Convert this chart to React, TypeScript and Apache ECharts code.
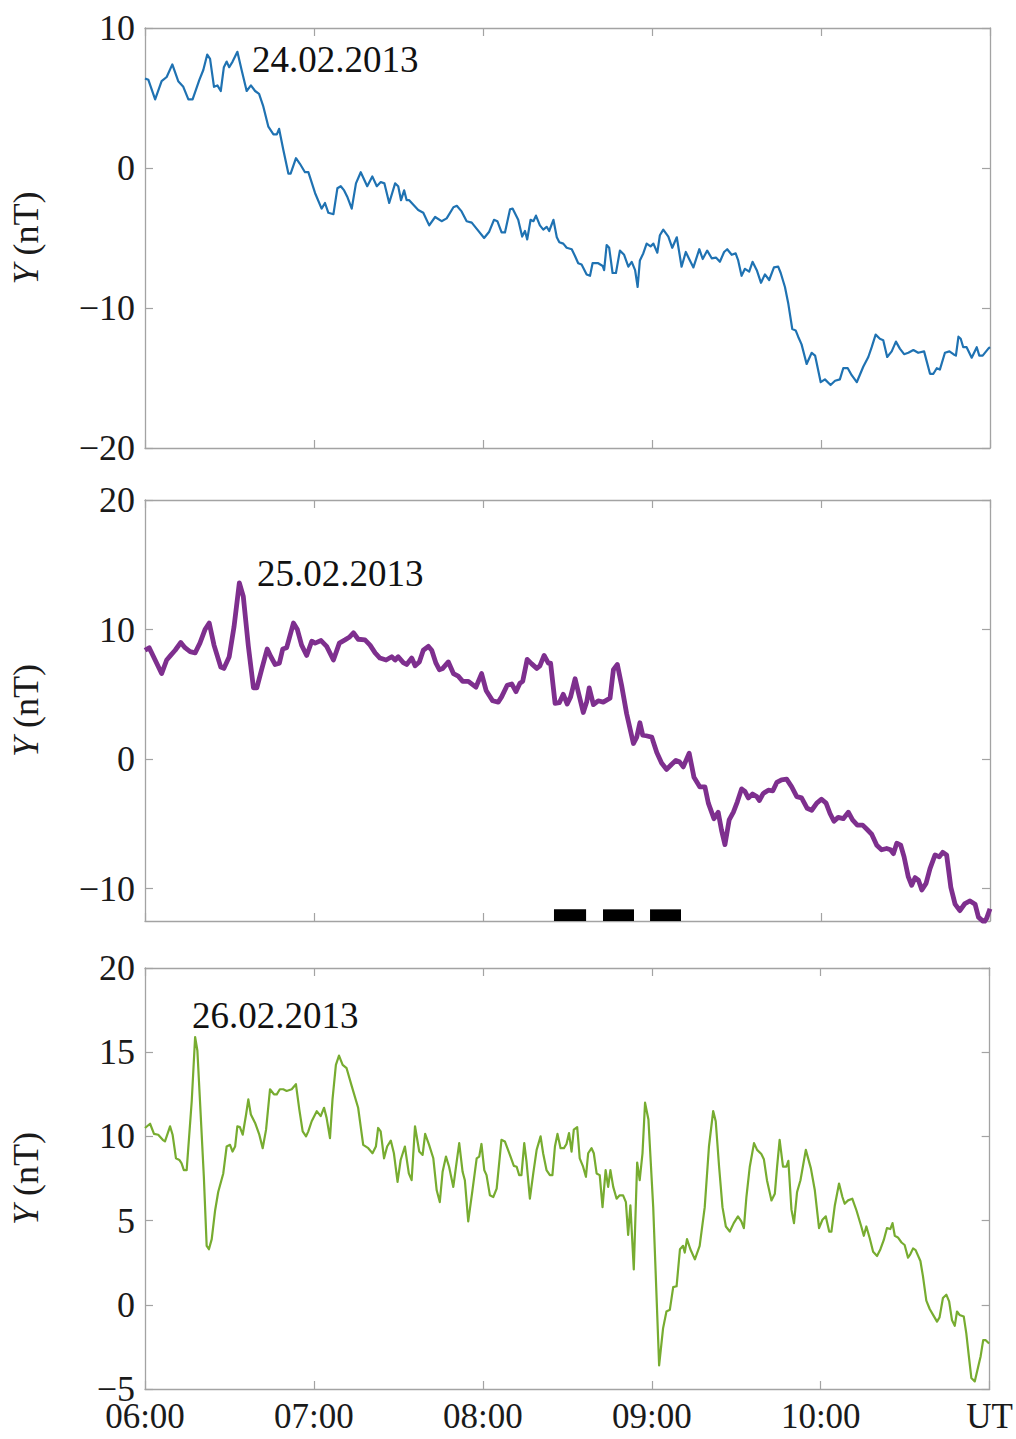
import React, { useEffect, useRef } from "react";
import * as echarts from "echarts";

// time in minutes after 06:00 UT, value in nT
const day24: [number, number][] = [
  [0, 6.4], [1.2, 6.3], [3.6, 4.9], [5.9, 6.2], [7.7, 6.5], [9.7, 7.4], [11.8, 6.2], [13.6, 5.8], [15.4, 4.9], [16.9, 4.9],
  [19.3, 6.3], [20.7, 7.0], [22.1, 8.1], [23.1, 7.8], [24.5, 5.8], [25.7, 5.9], [26.9, 5.5], [28.0, 7.2], [29.0, 7.6], [29.9, 7.2],
  [31.1, 7.6], [32.8, 8.3], [34.3, 7.0], [36.1, 5.5], [37.6, 5.9], [39.1, 5.5], [40.5, 5.3], [42.0, 4.4], [43.8, 2.95], [45.6, 2.4],
  [46.8, 2.4], [47.6, 2.8], [49.1, 1.3], [50.9, -0.4], [51.7, -0.4], [53.6, 0.7], [55.0, 0.3], [56.8, -0.3], [58.0, -0.3], [60.4, -1.8],
  [62.7, -2.9], [63.9, -2.5], [65.1, -3.2], [66.9, -3.3], [68.3, -1.45], [69.5, -1.3], [70.7, -1.6], [71.8, -2.05], [73.4, -2.9], [74.9, -1.1],
  [76.6, -0.3], [78.9, -1.3], [80.7, -0.6], [82.3, -1.3], [83.7, -1.0], [85.0, -1.1], [86.7, -2.5], [88.8, -1.1], [89.9, -1.3], [90.9, -2.3],
  [92.0, -1.6], [92.9, -2.3], [93.8, -2.3], [97.0, -3.0], [98.8, -3.2], [100.9, -4.1], [103.0, -3.5], [105.3, -3.8], [107.1, -3.6], [109.5, -2.8],
  [110.7, -2.7], [112.4, -3.1], [114.2, -3.8], [116.0, -3.9], [118.0, -4.4], [120.4, -5.0], [122.2, -4.55], [123.9, -3.7], [125.1, -3.8], [126.6, -4.6],
  [127.8, -4.6], [129.6, -2.95], [130.5, -2.9], [132.5, -3.7], [133.9, -4.9], [134.9, -4.5], [135.7, -5.1], [136.9, -3.7], [137.9, -3.8], [138.8, -3.4],
  [140.2, -4.1], [141.4, -4.4], [142.6, -4.2], [143.5, -4.5], [145.0, -3.7], [146.2, -4.95], [147.1, -5.3], [148.5, -5.4], [149.7, -5.7], [151.5, -5.8],
  [152.7, -6.3], [153.8, -6.8], [155.0, -6.9], [156.8, -7.6], [158.0, -7.7], [158.9, -6.8], [160.9, -6.8], [162.5, -7.0], [163.0, -7.3], [163.9, -5.5],
  [164.8, -5.7], [166.0, -7.5], [167.2, -7.5], [168.6, -5.9], [170.1, -6.2], [171.6, -7.05], [172.8, -6.7], [174.0, -7.3], [174.9, -8.5], [175.7, -6.6],
  [176.9, -6.1], [178.1, -5.4], [179.5, -5.6], [180.5, -5.4], [181.9, -6.05], [182.8, -4.8], [184.0, -4.4], [185.8, -4.9], [187.2, -5.7], [188.8, -4.95],
  [190.5, -7.05], [192.0, -6.0], [193.2, -6.5], [194.7, -7.1], [196.8, -5.8], [198.0, -6.5], [199.6, -5.9], [201.2, -6.45], [202.7, -6.4], [204.1, -6.7],
  [205.6, -6.0], [206.7, -5.8], [208.3, -6.2], [209.7, -6.1], [210.6, -6.6], [211.8, -7.7], [213.0, -7.2], [214.5, -7.4], [215.7, -6.7], [217.2, -7.3],
  [218.7, -8.2], [220.1, -7.6], [221.6, -8.0], [223.3, -7.1], [224.8, -7.05], [225.7, -7.5], [227.2, -8.5], [228.4, -9.7], [229.8, -11.5], [231.0, -11.6],
  [231.9, -12.05], [233.1, -12.6], [234.9, -14.0], [236.7, -13.2], [237.9, -13.4], [239.9, -15.3], [241.4, -15.1], [243.4, -15.5], [245.0, -15.2], [246.7, -15.1],
  [247.9, -14.3], [249.5, -14.3], [250.9, -14.8], [252.7, -15.3], [255.0, -14.2], [256.8, -13.5], [258.0, -12.8], [259.4, -11.9], [260.9, -12.2], [262.1, -12.3],
  [263.5, -13.5], [265.1, -13.1], [266.6, -12.4], [268.0, -12.9], [269.5, -13.3], [271.0, -13.2], [272.8, -13.0], [274.5, -13.2], [276.6, -13.1], [278.7, -14.7],
  [279.9, -14.7], [281.1, -14.3], [282.2, -14.4], [284.0, -13.2], [285.6, -13.1], [287.0, -13.3], [287.9, -13.4], [288.8, -12.05], [289.6, -12.2], [290.5, -12.8],
  [291.7, -12.8], [293.5, -13.55], [295.3, -12.8], [296.2, -13.4], [297.4, -13.4], [299.4, -12.9], [300, -12.8],
];

const day25: [number, number][] = [
  [0, 8.4], [1.5, 8.6], [3.6, 7.65], [5.9, 6.6], [7.7, 7.65], [9.1, 8.0], [10.7, 8.4], [12.7, 9.0], [14.2, 8.6], [16.0, 8.3],
  [17.8, 8.2], [19.5, 8.95], [21.3, 10.0], [22.8, 10.5], [24.5, 8.8], [26.9, 7.1], [28.0, 7.0], [29.9, 7.9], [31.6, 10.2], [33.5, 13.6],
  [34.9, 12.55], [36.7, 8.7], [38.5, 5.5], [39.7, 5.5], [41.4, 6.9], [43.4, 8.5], [44.7, 7.9], [46.2, 7.3], [47.7, 7.4], [48.9, 8.5],
  [50.3, 8.6], [52.7, 10.5], [54.1, 10.0], [55.6, 8.8], [57.4, 8.0], [59.2, 9.1], [60.4, 8.95], [62.5, 9.15], [64.5, 8.7], [66.9, 7.65],
  [69.0, 8.95], [71.0, 9.2], [72.5, 9.4], [74.0, 9.75], [75.7, 9.25], [78.1, 9.2], [79.9, 8.8], [81.7, 8.2], [83.4, 7.8], [85.6, 7.65],
  [87.6, 7.9], [88.8, 7.65], [89.9, 7.9], [91.7, 7.45], [92.9, 7.3], [94.7, 7.8], [95.9, 7.2], [97.4, 7.5], [98.8, 8.4], [100.6, 8.7],
  [101.8, 8.4], [103.3, 7.4], [104.5, 6.9], [105.7, 7.0], [107.7, 7.5], [109.5, 6.6], [111.2, 6.4], [112.8, 6.0], [114.8, 6.0], [117.5, 5.55],
  [119.5, 6.6], [121.1, 5.3], [123.4, 4.5], [125.4, 4.4], [126.6, 4.8], [128.6, 5.7], [130.2, 5.8], [131.7, 5.2], [133.1, 5.85], [134.1, 6.0],
  [135.7, 7.7], [137.3, 7.35], [139.1, 7.0], [140.2, 7.2], [141.7, 8.0], [143.2, 7.4], [144.0, 7.4], [145.6, 4.3], [147.1, 4.35], [148.5, 5.0],
  [149.9, 4.25], [151.1, 4.8], [152.7, 6.2], [153.8, 5.2], [155.6, 3.6], [156.8, 4.4], [157.7, 5.5], [159.2, 4.2], [160.9, 4.5], [162.7, 4.4],
  [163.9, 4.55], [165.1, 4.7], [166.3, 6.9], [167.7, 7.3], [169.2, 5.7], [171.0, 3.5], [173.4, 1.2], [174.6, 1.7], [175.7, 2.8], [176.7, 1.85],
  [177.9, 1.8], [179.9, 1.7], [181.7, 0.5], [183.4, -0.3], [185.2, -0.8], [187.0, -0.4], [188.5, -0.1], [189.7, -0.2], [191.1, -0.6], [193.2, 0.45],
  [194.9, -1.4], [197.0, -2.15], [198.8, -2.15], [200.0, -3.4], [202.0, -4.6], [203.5, -4.1], [204.7, -5.5], [205.9, -6.6], [207.4, -4.7], [208.9, -4.1],
  [210.3, -3.3], [211.8, -2.3], [213.0, -2.5], [214.2, -3.0], [215.7, -2.7], [217.2, -2.9], [218.1, -3.2], [219.5, -2.65], [221.3, -2.4], [222.9, -2.45],
  [224.3, -1.8], [226.0, -1.6], [227.8, -1.55], [229.6, -2.15], [231.4, -2.9], [233.1, -3.0], [235.1, -3.8], [236.7, -3.95], [238.5, -3.4], [240.2, -3.1],
  [241.8, -3.4], [243.2, -4.2], [244.6, -4.8], [246.1, -4.5], [247.9, -4.6], [249.7, -4.1], [251.2, -4.7], [252.9, -5.1], [254.8, -5.1], [256.2, -5.4],
  [258.0, -5.8], [259.8, -6.65], [261.5, -7.0], [263.3, -6.9], [264.7, -7.0], [265.7, -7.3], [266.9, -6.5], [268.3, -6.65], [269.5, -7.55], [271.0, -9.1],
  [272.2, -9.75], [273.4, -9.15], [274.6, -9.35], [275.8, -10.1], [277.3, -9.6], [278.7, -8.45], [280.5, -7.4], [282.0, -7.55], [283.2, -7.2], [284.6, -7.4],
  [286.1, -9.9], [287.6, -11.2], [289.3, -11.7], [291.1, -11.15], [292.9, -10.95], [294.7, -11.2], [295.9, -12.2], [297.9, -12.6], [298.8, -12.3], [300, -11.55],
];

const day26: [number, number][] = [
  [0, 10.5], [1.8, 10.75], [3.2, 10.15], [4.7, 10.1], [6.3, 9.8], [7.1, 9.7], [8.9, 10.6], [9.8, 10.1], [11.0, 8.7], [12.2, 8.6],
  [13.0, 8.4], [13.8, 8.0], [14.8, 8.0], [16.6, 12.1], [17.8, 15.9], [18.6, 15.1], [19.5, 12.2], [20.9, 7.6], [21.9, 3.5], [22.7, 3.3],
  [23.7, 3.9], [24.9, 5.6], [26.0, 6.7], [27.8, 7.8], [29.0, 9.4], [30.2, 9.5], [31.1, 9.1], [32.0, 9.4], [32.8, 10.6], [33.7, 10.55],
  [34.7, 10.1], [35.9, 11.3], [36.7, 12.2], [37.6, 11.3], [39.1, 10.8], [40.6, 10.1], [41.8, 9.3], [43.0, 10.4], [44.4, 12.8], [45.8, 12.5],
  [46.8, 12.5], [47.9, 12.8], [49.1, 12.8], [50.3, 12.7], [52.1, 12.8], [53.6, 13.1], [54.8, 11.6], [56.0, 10.3], [57.2, 10.0], [58.0, 10.3],
  [59.2, 10.9], [61.0, 11.5], [62.4, 11.2], [63.6, 11.7], [64.5, 11.1], [65.7, 9.9], [66.6, 12.2], [67.8, 14.25], [68.9, 14.8], [70.2, 14.25],
  [71.6, 14.05], [73.4, 13.0], [75.7, 11.7], [77.5, 9.5], [79.3, 9.3], [80.8, 9.0], [82.0, 9.4], [82.8, 10.5], [83.7, 10.3], [84.9, 8.7],
  [86.0, 9.4], [87.3, 9.75], [88.4, 9.0], [89.7, 7.3], [90.8, 8.6], [92.3, 9.4], [93.7, 7.8], [94.7, 7.4], [95.9, 10.6], [97.4, 9.1],
  [98.6, 8.9], [99.5, 10.15], [100.9, 9.5], [102.4, 8.7], [103.6, 6.8], [104.7, 6.1], [105.7, 7.9], [106.9, 8.8], [108.0, 8.2], [109.5, 7.0],
  [110.7, 8.5], [111.6, 9.6], [112.8, 7.9], [113.6, 7.4], [114.8, 4.95], [116.3, 6.8], [117.8, 8.7], [118.7, 8.8], [119.5, 9.55], [120.5, 8.0],
  [121.3, 7.7], [122.5, 6.5], [123.7, 6.4], [124.9, 6.9], [126.6, 9.8], [127.8, 9.7], [129.6, 8.9], [131.0, 8.25], [132.0, 8.2], [132.9, 7.7],
  [133.7, 7.7], [134.7, 9.6], [135.5, 8.5], [136.7, 6.3], [137.9, 7.8], [139.1, 9.2], [140.5, 10.0], [141.4, 9.0], [142.6, 8.0], [143.8, 7.7],
  [144.7, 7.7], [145.6, 9.4], [146.5, 10.15], [147.6, 9.3], [148.8, 9.3], [149.7, 9.55], [150.6, 10.2], [151.5, 9.1], [152.3, 10.4], [153.5, 10.55],
  [154.4, 8.7], [155.6, 8.2], [156.6, 7.6], [157.4, 9.0], [158.6, 9.3], [159.4, 9.0], [160.4, 7.8], [161.5, 7.7], [162.5, 5.8], [163.6, 8.0],
  [164.5, 7.0], [165.3, 8.0], [166.3, 7.0], [167.5, 6.3], [168.6, 6.5], [169.8, 6.5], [170.8, 6.1], [171.6, 4.15], [172.4, 5.9], [173.6, 2.1],
  [174.8, 8.45], [175.7, 7.4], [176.7, 9.0], [177.6, 12.0], [178.8, 11.0], [180.5, 5.8], [182.6, -3.6], [184.0, -1.4], [185.2, -0.4], [186.4, -0.3],
  [187.6, 1.05], [188.8, 1.1], [190.0, 3.3], [191.1, 3.5], [191.7, 3.1], [192.5, 3.9], [193.7, 3.3], [195.3, 2.7], [197.0, 3.5], [198.8, 5.8],
  [200.3, 9.4], [201.8, 11.5], [202.7, 10.9], [203.9, 8.2], [205.1, 5.8], [206.3, 4.65], [207.7, 4.35], [209.1, 4.85], [210.6, 5.25], [211.8, 4.95],
  [212.7, 4.55], [213.6, 6.4], [214.8, 8.2], [216.3, 9.6], [217.4, 9.2], [218.9, 8.95], [219.8, 8.65], [220.9, 7.4], [222.5, 6.2], [223.7, 6.6],
  [224.5, 8.2], [225.4, 9.8], [226.6, 8.2], [227.8, 8.2], [228.5, 8.55], [229.6, 5.65], [230.5, 4.85], [231.6, 6.7], [232.8, 7.4], [234.7, 9.2],
  [236.5, 8.1], [237.9, 6.8], [239.4, 4.55], [240.6, 5.05], [241.8, 5.25], [243.0, 4.35], [243.8, 4.35], [245.0, 5.9], [246.5, 7.2], [247.7, 6.4],
  [248.5, 6.0], [249.7, 6.2], [251.2, 6.3], [252.7, 5.6], [254.4, 4.65], [255.3, 4.1], [256.2, 4.65], [257.4, 3.95], [258.6, 3.15], [260.0, 2.9],
  [261.2, 3.3], [262.4, 3.85], [263.5, 4.55], [264.7, 4.5], [265.5, 4.85], [266.3, 4.1], [267.4, 4.0], [268.7, 3.7], [269.8, 3.55], [271.0, 2.8],
  [271.8, 3.0], [272.8, 3.35], [273.7, 3.25], [275.4, 2.6], [276.3, 1.7], [277.5, 0.25], [278.7, -0.25], [279.9, -0.6], [281.3, -1.0], [282.2, -0.75],
  [283.4, 0.4], [284.6, 0.6], [285.6, 0.2], [286.6, -0.9], [287.6, -1.25], [288.4, -0.4], [289.3, -0.6], [290.8, -0.7], [291.7, -1.7], [292.6, -3.05],
  [293.5, -4.35], [294.7, -4.55], [295.9, -3.7], [296.8, -3.05], [297.7, -2.1], [298.6, -2.1], [299.8, -2.3], [300, -2.3],
];

// black interval bars on the 25.02 panel (minutes after 06:00)
const barStarts = [145.2, 162.6, 179.3];
const barEnds = [156.6, 173.6, 190.3];
const barBottom = -12.5;
const barTop = -11.6;

const xTicks = [0, 60, 120, 180, 240, 300];
const xTickLabels = ["06:00", "07:00", "08:00", "09:00", "10:00", "UT"];
const dates = ["24.02.2013", "25.02.2013", "26.02.2013"];
const yRanges: [number, number, number][] = [
  [-20, 10, 10],
  [-12.5, 20, 10],
  [-5, 20, 5],
];
const yTickValues = [
  [-20, -10, 0, 10],
  [-10, 0, 10, 20],
  [-5, 0, 5, 10, 15, 20],
];
const colors = ["#1f72b2", "#7e2f8e", "#77ac30"];
const widths = [2.2, 4.8, 2.2];

const FONT = "'Liberation Serif', 'Times New Roman', serif";
const AXIS_COLOR = "#a3a3a3";

export default function App() {
  const ref = useRef<HTMLDivElement>(null);
  useEffect(() => {
    if (!ref.current) return;
    const chart = echarts.init(ref.current, undefined, { renderer: "svg" });
    const grids = [
      { left: 145, top: 28, width: 845, height: 420 },
      { left: 145, top: 500, width: 845, height: 421 },
      { left: 145, top: 968, width: 845, height: 421 },
    ];
    const xAxes: any[] = [];
    const yAxes: any[] = [];
    grids.forEach((_, i) => {
      const last = i === 2;
      const base = {
        type: "value",
        gridIndex: i,
        min: 0,
        max: 300,
        interval: 60,
        splitLine: { show: false },
        axisLine: { show: true, onZero: false, lineStyle: { color: AXIS_COLOR, width: 1.3 } },
        axisTick: { show: true, inside: true, length: 8, lineStyle: { color: AXIS_COLOR, width: 1.2 } },
      };
      xAxes.push({
        ...base,
        position: "bottom",
        axisLabel: {
          show: last,
          margin: 10,
          fontFamily: FONT,
          fontSize: 35,
          color: "#1a1a1a",
          customValues: xTicks,
          formatter: (v: number) => {
            const k = xTicks.indexOf(v);
            return k >= 0 ? xTickLabels[k] : "";
          },
        },
      });
      xAxes.push({ ...base, position: "top", axisLabel: { show: false } });
      const [mn, mx, step] = yRanges[i];
      const ybase = {
        type: "value",
        gridIndex: i,
        min: mn,
        max: mx,
        splitNumber: Math.round((mx - mn) / step),
        splitLine: { show: false },
        axisLine: { show: true, onZero: false, lineStyle: { color: AXIS_COLOR, width: 1.3 } },
        axisTick: {
          show: true,
          inside: true,
          length: 8,
          customValues: yTickValues[i],
          lineStyle: { color: AXIS_COLOR, width: 1.2 },
        },
      };
      if (mn % step === 0) (ybase as any).interval = step;
      yAxes.push({
        ...ybase,
        position: "left",
        name: "{i|Y} (nT)",
        nameLocation: "middle",
        nameGap: 101,
        nameRotate: 90,
        nameTextStyle: {
          fontFamily: FONT,
          fontSize: 36,
          color: "#1a1a1a",
          rich: { i: { fontFamily: FONT, fontSize: 36, fontStyle: "italic", color: "#1a1a1a" } },
        },
        axisLabel: {
          margin: 10,
          fontFamily: FONT,
          fontSize: 36,
          color: "#1a1a1a",
          customValues: yTickValues[i],
          formatter: (v: number) =>
            yTickValues[i].indexOf(v) >= 0 ? String(v).replace("-", "\u2212") : "",
        },
      });
      yAxes.push({ ...ybase, position: "right", axisLabel: { show: false } });
    });

    const seriesData = [day24, day25, day26];
    const series: any[] = seriesData.map((d, i) => ({
      type: "line",
      xAxisIndex: i * 2,
      yAxisIndex: i * 2,
      data: d,
      showSymbol: false,
      symbol: "none",
      clip: true,
      lineStyle: { color: colors[i], width: widths[i], join: "round" },
      ...(i === 1
        ? {
            markArea: {
              silent: true,
              itemStyle: { color: "#000000", opacity: 1 },
              data: barStarts.map((s, k) => [
                { xAxis: s, yAxis: barBottom },
                { xAxis: barEnds[k], yAxis: barTop },
              ]),
            },
          }
        : {}),
    }));

    const datePos = [
      { x: 252, y: 61 },
      { x: 257, y: 575 },
      { x: 192, y: 1017 },
    ];
    const graphic = dates.map((t, i) => ({
      type: "text",
      left: datePos[i].x,
      top: datePos[i].y - 20,
      style: { text: t, fontFamily: FONT, fontSize: 37, fill: "#111111" },
      z: 100,
    }));

    chart.setOption({
      animation: false,
      backgroundColor: "#ffffff",
      grid: grids,
      xAxis: xAxes,
      yAxis: yAxes,
      series,
      graphic,
    });
    return () => chart.dispose();
  }, []);
  return (
    <div
      ref={ref}
      style={{ position: "absolute", left: 0, top: 0, width: 1016, height: 1439 }}
    />
  );
}
